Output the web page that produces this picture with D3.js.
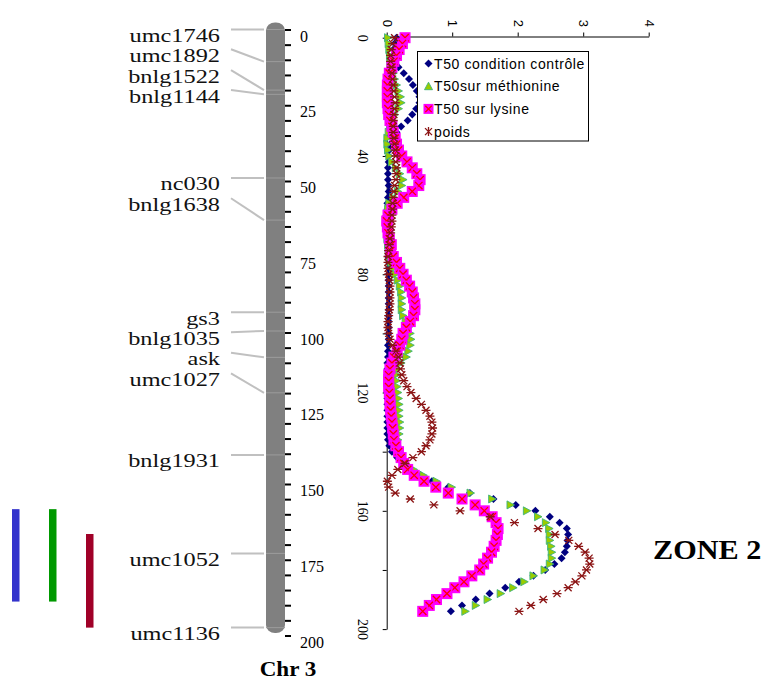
<!DOCTYPE html>
<html><head><meta charset="utf-8">
<script src="https://cdn.jsdelivr.net/npm/d3@7"></script>
<style>body{margin:0;background:#fff}svg{display:block}</style>
</head><body>
<svg id="c" width="765" height="682"></svg>
<script>
// ---------- DATA ----------
const markerNames = ["umc1746","umc1892","bnlg1522","bnlg1144","nc030","bnlg1638","gs3","bnlg1035","ask","umc1027","bnlg1931","umc1052","umc1136"];
const markerCm    = [0, 10.6, 20, 21.4, 49, 62.9, 93.3, 99.5, 108.2, 119.9, 140.4, 172.9, 197.4];
const labelCm     = [0, 6.5, 13.4, 20, 49, 55.7, 93.3, 99.9, 106.7, 113.5, 140.4, 172.9, 197.4];
const chrTickLabels = [0,25,50,75,100,125,150,175,200];
const lodTicks = [0,1,2,3,4];
const posTicks = [0,20,40,60,80,100,120,140,160,180,200];
const intervalStart = [158.3, 158.3, 166.5];
const intervalEnd   = [188.8, 188.8, 197.4];
const intervalColors = ["#3333CC","#009900","#A00028"];
const seriesNames = ["T50 condition contrôle","T50sur méthionine","T50 sur lysine","poids"];

const positions = [0,2,4,6,8,10,12,14,16,18,20,22,24,26,28,30,32,34,36,38,40,42,44,46,48,50,52,54,56,58,60,62,64,66,68,70,72,74,76,78,80,82,84,86,88,90,92,94,96,98,100,102,104,106,108,110,112,114,116,118,120,122,124,126,128,130,132,134,136,138,140,142,144,146,148,150,152,154,156,158,160,162,164,166,168,170,172,174,176,178,180,182,184,186,188,190,192,194];

const controle = [0.15,0.12,0.10,0.10,0.13,0.18,0.26,0.34,0.40,0.46,0.50,0.50,0.45,0.39,0.32,0.22,0.15,0.09,0.05,0.04,
0.03,0.03,0.02,0.02,0.02,0.03,0.03,0.02,0.01,0.01,0.01,0.01,0.01,0.01,0.02,0.02,0.02,0.02,0.03,0.03,
0.03,0.03,0.03,0.03,0.03,0.03,0.03,0.03,0.03,0.03,0.03,0.03,0.02,0.02,0.02,0.01,0.01,0.01,0.01,0.01,
0.01,0.01,0.01,0.01,0.01,0.01,0.01,0.01,0.02,0.04,0.08,0.16,0.26,0.38,0.52,0.69,0.94,1.27,1.63,1.97,
2.27,2.49,2.64,2.75,2.77,2.76,2.75,2.72,2.67,2.56,2.42,2.24,2.02,1.81,1.57,1.36,1.15,0.98];

const methionine = [0.02,0.03,0.04,0.05,0.06,0.08,0.10,0.12,0.15,0.18,0.21,0.22,0.18,0.12,0.08,0.05,0.03,0.01,0.01,0.02,
0.04,0.08,0.14,0.20,0.25,0.23,0.17,0.10,0.04,0.02,0.01,0.01,0.01,0.01,0.01,0.02,0.03,0.05,0.07,0.10,
0.13,0.17,0.20,0.22,0.23,0.23,0.23,0.25,0.29,0.33,0.36,0.37,0.36,0.33,0.30,0.22,0.17,0.15,0.15,0.16,
0.17,0.18,0.19,0.19,0.19,0.20,0.20,0.19,0.17,0.16,0.16,0.20,0.28,0.41,0.56,0.76,0.99,1.28,1.61,1.89,
2.14,2.31,2.43,2.48,2.49,2.49,2.51,2.52,2.52,2.49,2.41,2.24,2.10,1.93,1.74,1.54,1.36,1.20];

const lysine = [0.28,0.24,0.19,0.15,0.11,0.08,0.04,0.02,0.01,0.01,0.01,0.01,0.02,0.03,0.05,0.08,0.10,0.13,0.15,0.18,
0.23,0.31,0.39,0.46,0.51,0.49,0.39,0.26,0.16,0.08,0.02,0.00,0.01,0.02,0.04,0.07,0.06,0.10,0.15,0.20,
0.25,0.30,0.35,0.39,0.41,0.43,0.43,0.41,0.36,0.30,0.25,0.23,0.20,0.16,0.11,0.08,0.05,0.03,0.03,0.03,
0.04,0.05,0.05,0.06,0.07,0.08,0.09,0.10,0.11,0.14,0.18,0.22,0.26,0.32,0.42,0.57,0.75,0.94,1.15,1.35,
1.49,1.61,1.67,1.70,1.69,1.67,1.64,1.60,1.54,1.48,1.42,1.30,1.18,1.04,0.92,0.76,0.65,0.55];

const poids = [0.12,0.09,0.07,0.06,0.06,0.07,0.08,0.09,0.10,0.11,0.12,0.13,0.12,0.11,0.10,0.10,0.10,0.11,0.12,0.13,
0.14,0.14,0.15,0.15,0.14,0.12,0.11,0.10,0.09,0.09,0.08,0.08,0.07,0.06,0.05,0.04,0.03,0.02,0.02,0.02,
0.03,0.04,0.05,0.05,0.05,0.05,0.04,0.03,0.02,0.02,0.03,0.05,0.09,0.14,0.18,0.20,0.21,0.23,0.26,0.31,
0.37,0.45,0.53,0.60,0.66,0.69,0.70,0.69,0.66,0.60,0.53,0.40,0.28,0.17,0.08,0.01,0.03,0.13,0.36,0.72,
1.12,1.58,1.95,2.31,2.57,2.78,2.93,3.03,3.09,3.10,3.05,2.98,2.88,2.77,2.60,2.39,2.20,2.02];

// ---------- DRAW ----------
const svg = d3.select("#c");
const SERIF = "'Liberation Serif','Times New Roman',serif";
const SANS = "'Liberation Sans',Arial,sans-serif";

const chrY = d3.scaleLinear().domain([0,200]).range([29.5,635.5]);
const posY = d3.scaleLinear().domain([0,200]).range([37.7,629.1]);
const lodX = d3.scaleLinear().domain([0,4]).range([386.7,648.7]);

// QTL interval bars
const ivX = [12,49,86];
svg.append("g").selectAll("rect").data(intervalStart).join("rect")
  .attr("x",(d,i)=>ivX[i]).attr("width",7.5)
  .attr("y",d=>chrY(d)).attr("height",(d,i)=>chrY(intervalEnd[i])-chrY(d))
  .attr("fill",(d,i)=>intervalColors[i]);

// chromosome bar
svg.append("rect").attr("x",266).attr("y",chrY(0)-7).attr("width",19)
  .attr("height",chrY(200)-chrY(0)+4.5).attr("rx",9).attr("ry",8).attr("fill","#808080");
svg.append("g").selectAll("line").data(markerCm).join("line")
  .attr("x1",266).attr("x2",285).attr("y1",d=>chrY(d)).attr("y2",d=>chrY(d))
  .attr("stroke","#9c9c9c").attr("stroke-width",1);

// chromosome ruler
const chrAxis = d3.axisRight(chrY).tickValues(d3.range(0,201,5)).tickSize(6).tickSizeOuter(0)
  .tickFormat(d => chrTickLabels.includes(d) ? d : "");
const gc = svg.append("g").attr("transform","translate(285,0)").call(chrAxis);
gc.select(".domain").remove();
gc.selectAll(".tick line").attr("stroke","#000").attr("stroke-width",2);
gc.selectAll("text").attr("x",15).attr("dy","0.72em").attr("fill","#000")
  .style("font-family",SERIF).style("font-size","16px");

// connectors
svg.append("g").selectAll("line").data(markerCm).join("line")
  .attr("x1",231).attr("y1",(d,i)=>chrY(labelCm[i])).attr("x2",264).attr("y2",d=>chrY(d))
  .attr("stroke","#c0c0c0").attr("stroke-width",2);

// marker labels
svg.append("g").selectAll("text").data(markerNames).join("text")
  .attr("transform",(d,i)=>`translate(220,${chrY(labelCm[i])+12.5}) scale(1.28,1)`)
  .attr("text-anchor","end").style("font-family",SERIF).style("font-size","19px").attr("fill","#111")
  .text(d=>d);

// Chr 3
svg.append("text").attr("transform","translate(288,676) scale(1.1,1)").attr("text-anchor","middle")
  .style("font-family",SERIF).style("font-size","21px").style("font-weight","bold").text("Chr 3");

// ZONE 2
svg.append("text").attr("transform","translate(653,559) scale(1.12,1)")
  .style("font-family",SERIF).style("font-size","27px").style("font-weight","bold").text("ZONE 2");

// ---------- LOD plot ----------
const topAxis = d3.axisTop(lodX).tickValues(lodTicks).tickSize(4).tickSizeOuter(0).tickFormat(d3.format("d"));
const gt = svg.append("g").attr("transform","translate(0,36.5)").call(topAxis);
gt.selectAll("path,line").attr("stroke","#000");
gt.selectAll("text").attr("x",0).attr("y",0).attr("dy",null)
  .attr("transform","translate(0,-9.5) rotate(90)").attr("text-anchor","end")
  .attr("dominant-baseline","central").attr("fill","#000")
  .style("font-family",SANS).style("font-size","13px");

const leftAxis = d3.axisLeft(posY).tickValues(posTicks).tickSize(4).tickSizeOuter(0)
  .tickFormat(d => d % 40 === 0 ? d : "");
const gl = svg.append("g").attr("transform",`translate(${lodX(0)},0)`).call(leftAxis);
gl.selectAll("path,line").attr("stroke","#000");
gl.selectAll("text").attr("x",0).attr("y",0).attr("dy",null)
  .attr("transform","translate(-24.5,0) rotate(90)").attr("text-anchor","middle")
  .attr("dominant-baseline","central").attr("fill","#000")
  .style("font-family",SERIF).style("font-size","14px");

const shapes = {
  diamond: g => g.append("path").attr("d","M0,-4L4,0L0,4L-4,0Z").attr("fill","#000080"),
  triRight: g => g.append("path").attr("d","M-3.5,-4L4,0L-3.5,4Z").attr("fill","#99CC00").attr("stroke","#3DB37A").attr("stroke-width",0.9),
  triUp: g => g.append("path").attr("d","M0,-4L4,3.5L-4,3.5Z").attr("fill","#99CC00").attr("stroke","#3DB37A").attr("stroke-width",0.9),
  square: (g,s=5.5) => { g.append("rect").attr("x",-s).attr("y",-s).attr("width",2*s).attr("height",2*s).attr("fill","#FF00FF");
    const k=s-1.8; g.append("path").attr("d",`M${-k},${-k}L${k},${k}M${-k},${k}L${k},${-k}`).attr("stroke","#FF0000").attr("stroke-width",1.3); },
  starH: g => g.append("path").attr("d","M-3.5,-3.5L3.5,3.5M-3.5,3.5L3.5,-3.5M-4.5,0L4.5,0").attr("stroke","#8B1414").attr("stroke-width",1.3).attr("fill","none"),
  starV: g => g.append("path").attr("d","M-3.5,-3.5L3.5,3.5M-3.5,3.5L3.5,-3.5M0,-4.5L0,4.5").attr("stroke","#8B1414").attr("stroke-width",1.3).attr("fill","none")
};

function drawSeries(vals, shape){
  svg.append("g").selectAll("g").data(positions.map((p,i)=>[p,vals[i]])).join("g")
    .attr("transform",d=>`translate(${lodX(d[1])},${posY(d[0])})`)
    .each(function(){ shape(d3.select(this)); });
}
drawSeries(controle, shapes.diamond);
drawSeries(methionine, shapes.triRight);
drawSeries(lysine, shapes.square);
drawSeries(poids, shapes.starH);

// legend
const lg = svg.append("g");
lg.append("rect").attr("x",417.5).attr("y",51.5).attr("width",171).attr("height",89.5)
  .attr("fill","#fff").attr("stroke","#000").attr("stroke-width",1);
const legShapes = [shapes.diamond, shapes.triUp, g=>shapes.square(g,5), shapes.starV];
seriesNames.forEach((name,i)=>{
  const y = 63.5 + i*22.7;
  const m = lg.append("g").attr("transform",`translate(428.5,${y})`);
  legShapes[i](m);
  lg.append("text").attr("x",434).attr("y",y+5).style("font-family",SANS).style("font-size","14px")
    .style("letter-spacing","0.6px").attr("fill","#000").text(name);
});
</script>
</body></html>
